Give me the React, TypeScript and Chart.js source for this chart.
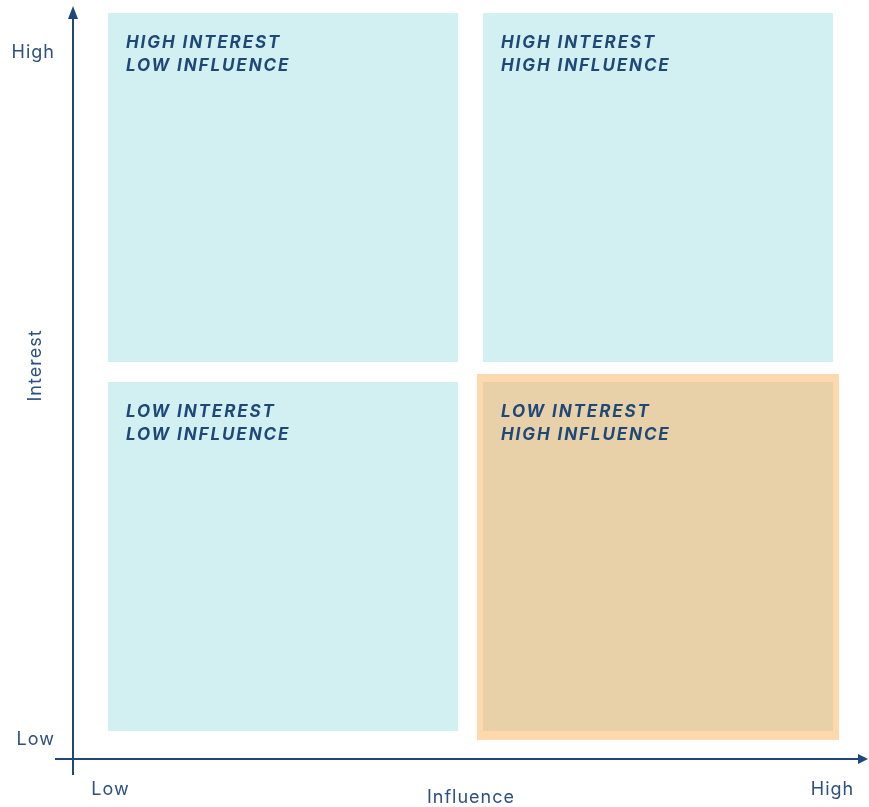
import React, { useEffect, useRef } from "react";
import { Chart, registerables } from "chart.js";

Chart.register(...registerables);

// ---- data ----
const quadrantLabels: string[][] = [
  ["HIGH INTEREST", "LOW INFLUENCE"],
  ["HIGH INTEREST", "HIGH INFLUENCE"],
  ["LOW INTEREST", "LOW INFLUENCE"],
  ["LOW INTEREST", "HIGH INFLUENCE"],
];
const quadrantX = [8.4, 23.4, 8.4, 23.4];
const quadrantYStart = [15.88, 15.88, 1.12, 1.12];
const quadrantYEnd = [29.84, 29.84, 15.08, 15.08];
const quadrantColors = ["#d2eff1", "#d2eff1", "#d2eff1", "#e8d1a8"];

const highlightX = [23.4];
const highlightYStart = [0.76];
const highlightYEnd = [15.4];

const xTickValues = [1.48, 30.36];
const xTickLabels = ["Low", "High"];
const yTickValues = [0.84, 28.32];
const yTickLabels = ["Low", "High"];
const xTitle = "Influence";
const yTitle = "Interest";

const AXIS_COLOR = "#1f4779";
const LABEL_COLOR = "#2d5080";
const QUAD_TEXT = "#1e4878";
const FONT = "Inter, 'Open Sans', sans-serif";

const decorPlugin = {
  id: "decor",
  afterDatasetsDraw(chart: any) {
    const ctx = chart.ctx;
    const meta = chart.getDatasetMeta(0);
    ctx.save();
    ctx.fillStyle = QUAD_TEXT;
    ctx.font = `italic 700 17px ${FONT}`;
    (ctx as any).letterSpacing = "1.9px";
    ctx.textAlign = "left";
    ctx.textBaseline = "alphabetic";
    meta.data.forEach((el: any, i: number) => {
      const p = el.getProps(["x", "y", "base", "width"], true);
      const left = p.x - p.width / 2;
      const top = Math.min(p.y, p.base);
      quadrantLabels[i].forEach((line, j) => {
        ctx.fillText(line, left + 18, top + 35 + j * 23);
      });
    });
    ctx.restore();
  },
  afterDraw(chart: any) {
    const ctx = chart.ctx;
    const { left, right, top, bottom } = chart.chartArea;
    const xs = chart.scales.x;
    const ys = chart.scales.y;
    ctx.save();
    ctx.strokeStyle = AXIS_COLOR;
    ctx.fillStyle = AXIS_COLOR;
    ctx.lineWidth = 2;
    // vertical axis
    ctx.beginPath();
    ctx.moveTo(left, bottom + 16);
    ctx.lineTo(left, top + 8);
    ctx.stroke();
    ctx.beginPath();
    ctx.moveTo(left, top - 3);
    ctx.lineTo(left - 5, top + 10);
    ctx.lineTo(left + 5, top + 10);
    ctx.closePath();
    ctx.fill();
    // horizontal axis
    ctx.beginPath();
    ctx.moveTo(left - 18, bottom);
    ctx.lineTo(right - 6, bottom);
    ctx.stroke();
    ctx.beginPath();
    ctx.moveTo(right, bottom);
    ctx.lineTo(right - 10, bottom - 5);
    ctx.lineTo(right - 10, bottom + 5);
    ctx.closePath();
    ctx.fill();

    // tick labels
    ctx.fillStyle = LABEL_COLOR;
    ctx.font = `400 18px ${FONT}`;
    (ctx as any).letterSpacing = "1px";
    ctx.textBaseline = "alphabetic";
    ctx.textAlign = "left";
    yTickValues.forEach((v, i) => {
      const w = ctx.measureText(yTickLabels[i]).width;
      ctx.fillText(yTickLabels[i], left - 19 - w + 1, ys.getPixelForValue(v) + 6.5);
    });
    const centered = (t: string, x: number, y: number) => {
      const w = ctx.measureText(t).width - 1;
      ctx.fillText(t, x - w / 2, y);
    };
    xTickValues.forEach((v, i) => {
      centered(xTickLabels[i], xs.getPixelForValue(v), bottom + 36);
    });
    // titles
    centered(xTitle, (left + right) / 2, bottom + 44);
    ctx.translate(left - 32.5, ys.getPixelForValue(15.72));
    ctx.rotate(-Math.PI / 2);
    centered(yTitle, 0, 0);
    ctx.restore();
  },
};

export default function App() {
  const ref = useRef<HTMLCanvasElement | null>(null);
  useEffect(() => {
    document.body.style.margin = "0";
    const canvas = ref.current!;
    const chart = new Chart(canvas, {
      type: "bar",
      data: {
        datasets: [
          {
            label: "Quadrants",
            data: quadrantX.map((x, i) => ({ x, y: [quadrantYStart[i], quadrantYEnd[i]] })) as any,
            backgroundColor: quadrantColors,
            borderWidth: 0,
            grouped: false,
            barPercentage: 1,
            categoryPercentage: 14 / 15,
          },
          {
            label: "Highlight",
            data: highlightX.map((x, i) => ({ x, y: [highlightYStart[i], highlightYEnd[i]] })) as any,
            backgroundColor: "#fdd9ad",
            borderWidth: 0,
            grouped: false,
            barPercentage: 1,
            categoryPercentage: 362 / 375,
          },
        ],
      },
      options: {
        responsive: false,
        animation: false,
        events: [],
        layout: { padding: { left: 73, right: 1, top: 9, bottom: 48 } },
        plugins: { legend: { display: false }, tooltip: { enabled: false } },
        scales: {
          x: {
            type: "linear",
            min: 0,
            max: 31.8,
            offset: false,
            display: false,
            afterBuildTicks: (s: any) => {
              s.ticks = xTickValues.map((v) => ({ value: v }));
            },
          },
          y: {
            type: "linear",
            min: 0,
            max: 30,
            display: false,
            afterBuildTicks: (s: any) => {
              s.ticks = yTickValues.map((v) => ({ value: v }));
            },
          },
        },
      } as any,
      plugins: [decorPlugin],
    });
    return () => chart.destroy();
  }, []);
  return <canvas ref={ref} width={869} height={807} style={{ display: "block" }} />;
}
